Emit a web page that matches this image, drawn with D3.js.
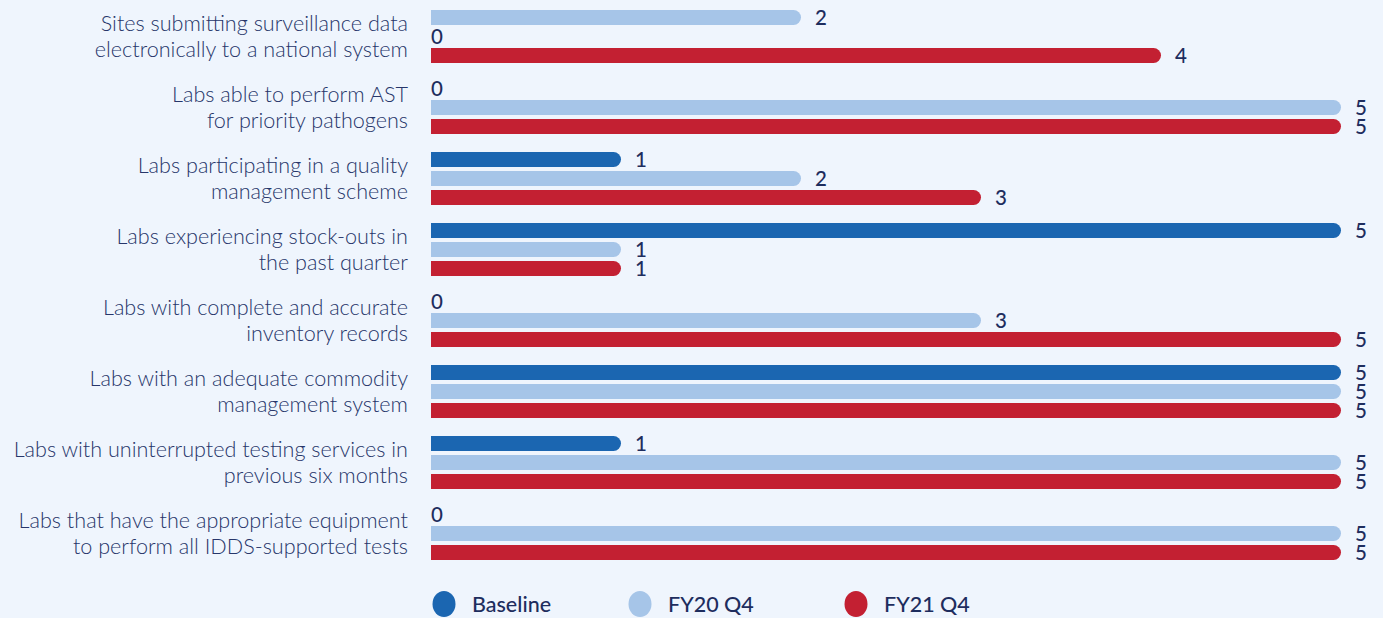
<!DOCTYPE html>
<html>
<head>
<meta charset="utf-8">
<script src="https://cdn.jsdelivr.net/npm/d3@7"></script>
<style>
  html, body { margin: 0; padding: 0; background: #eff5fd; }
  svg { display: block; }
  .cat { font-family: Lato, "Open Sans", sans-serif; font-weight: 300; font-size: 21.6px; fill: #27366a; }
  .val { font-family: Lato, "Open Sans", sans-serif; font-weight: 500; font-size: 20.5px; fill: #1e2d5e; }
  .leg { font-family: Lato, "Open Sans", sans-serif; font-weight: 500; font-size: 21.5px; fill: #1e2d5e; }
</style>
</head>
<body>
<svg width="1383" height="618"></svg>
<script>
const categories = [
    ["Sites submitting surveillance data", "electronically to a national system"],
    ["Labs able to perform AST", "for priority pathogens"],
    ["Labs participating in a quality", "management scheme"],
    ["Labs experiencing stock-outs in", "the past quarter"],
    ["Labs with complete and accurate", "inventory records"],
    ["Labs with an adequate commodity", "management system"],
    ["Labs with uninterrupted testing services in", "previous six months"],
    ["Labs that have the appropriate equipment", "to perform all IDDS-supported tests"]
];
const seriesNames = ["Baseline", "FY20 Q4", "FY21 Q4"];
const baseline = [0, 0, 1, 5, 0, 5, 1, 0];
const fy20 = [2, 5, 2, 1, 3, 5, 5, 5];
const fy21 = [4, 5, 3, 1, 5, 5, 5, 5];
const colors = ["#1b66b1", "#a6c5e8", "#c32032"];
const maxValue = 5;

const svg = d3.select("svg");
const left = 431, right = 1341;

// 按类别组织数据
const seriesValues = [baseline, fy20, fy21];
const rows = categories.map((c, i) => {
    // 第一组在原图里浅蓝在上、基线在中间
    const order = i === 0 ? [1, 0, 2] : [0, 1, 2];
    return { idx: i, lines: c, bars: order.map((s, slot) => ({ s, slot, v: seriesValues[s][i] })) };
});

const y = d3.scaleBand().domain(d3.range(categories.length)).range([1, 569]);
const slotY = d3.scaleBand().domain([0, 1, 2]).range([-28.5, 28.5]);
const x = d3.scaleLinear().domain([0, maxValue]).range([left + 10, right]);
const barH = 15;

function barPath(x0, x1, yc, h) {
    const r = h / 2;
    return `M${x0},${yc - r}H${x1 - r}A${r},${r} 0 0 1 ${x1 - r},${yc + r}H${x0}Z`;
}

const g = svg.append("g").selectAll("g")
    .data(rows)
    .join("g")
    .attr("transform", d => `translate(0,${y(d.idx) + y.bandwidth() / 2})`);

g.append("text")
    .attr("class", "cat")
    .attr("text-anchor", "end")
    .selectAll("tspan")
    .data(d => d.lines)
    .join("tspan")
    .attr("x", 408)
    .attr("y", (d, i) => i === 0 ? -13 : 13)
    .attr("dy", "0.35em")
    .text(d => d);

const bar = g.selectAll("g.bar")
    .data(d => d.bars)
    .join("g")
    .attr("class", "bar")
    .attr("transform", d => `translate(0,${slotY(d.slot) + slotY.bandwidth() / 2})`);

bar.filter(d => d.v > 0)
    .append("path")
    .attr("d", d => barPath(left, x(d.v), 0, barH))
    .attr("fill", d => colors[d.s]);

bar.append("text")
    .attr("class", "val")
    .attr("x", d => d.v > 0 ? x(d.v) + 14 : left)
    .attr("y", 0)
    .attr("dy", "0.36em")
    .text(d => d.v);

// 图例
const legendX = [444, 640, 856];
const legend = svg.append("g").selectAll("g")
    .data(seriesNames)
    .join("g")
    .attr("transform", (d, i) => `translate(${legendX[i]},604)`);
legend.append("ellipse")
    .attr("rx", 11.5)
    .attr("ry", 13)
    .attr("fill", (d, i) => colors[i]);
legend.append("text")
    .attr("class", "leg")
    .attr("x", 28)
    .attr("dy", "0.35em")
    .text(d => d);
</script>
</body>
</html>
